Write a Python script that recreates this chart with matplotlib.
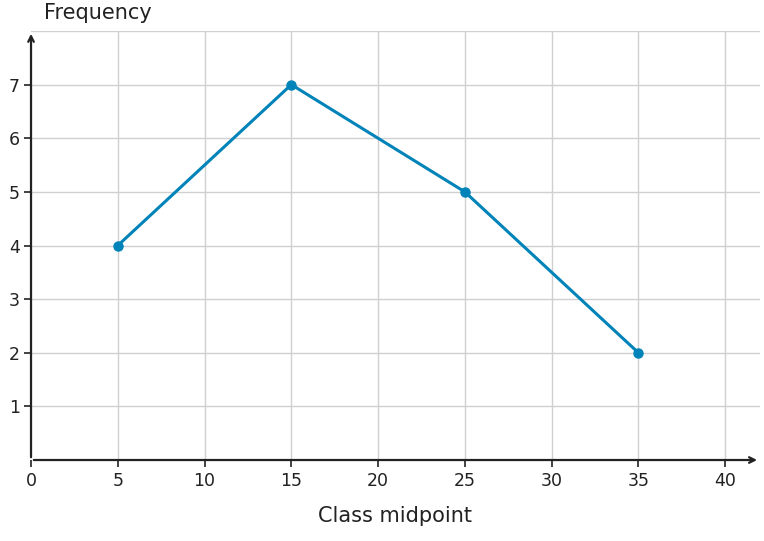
import matplotlib.pyplot as plt

midpoints = [5, 15, 25, 35]
frequency = [4, 7, 5, 2]
xticks = [0, 5, 10, 15, 20, 25, 30, 35, 40]
yticks = [1, 2, 3, 4, 5, 6, 7]

fig = plt.figure(figsize=(7.64, 5.41), dpi=100)
ax = fig.add_axes([0.0406, 0.1497, 0.954, 0.793])
ax.set_xlim(0, 42)
ax.set_ylim(0, 8)

for x in xticks[1:]:
    ax.axvline(x, color='#d0d0d0', lw=1, zorder=0)
for y in yticks + [8]:
    ax.axhline(y, color='#d0d0d0', lw=1, zorder=0)

ax.plot(midpoints, frequency, color='#0083b8', lw=2.2, marker='o', ms=6.5, zorder=3)

for s in ax.spines.values():
    s.set_visible(False)
ax.annotate('', xy=(1.0, 0), xycoords='axes fraction', xytext=(0, 0),
            arrowprops=dict(arrowstyle='->', color='#222222', lw=1.6))
ax.annotate('', xy=(0, 1.0), xycoords='axes fraction', xytext=(0, 0),
            arrowprops=dict(arrowstyle='->', color='#222222', lw=1.6))

ax.set_xticks(xticks)
ax.set_yticks(yticks)
ax.tick_params(axis='both', colors='#222222', labelsize=12.5, length=5, width=1.2)
ax.tick_params(axis='y', pad=3)
ax.set_xlabel('Class midpoint', fontsize=15, color='#222222', labelpad=12)
fig.text(0.057, 0.995, 'Frequency', fontsize=15, color='#222222', va='top')

fig.savefig('out.png', dpi=100)
